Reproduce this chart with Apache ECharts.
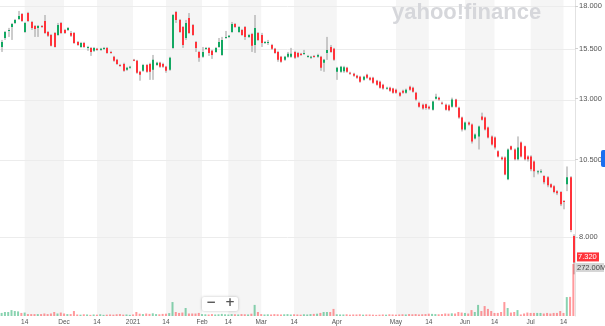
<!DOCTYPE html>
<html>
<head>
<meta charset="utf-8">
<script src="https://cdn.jsdelivr.net/npm/echarts@6/dist/echarts.min.js"></script>
<style>html,body{margin:0;padding:0;background:#fff;}#c{width:605px;height:326px;}</style>
</head>
<body>
<div id="c"></div>
<script>
// ---- data (daily candles) ----
const open = [15.59,16.09,16.49,16.72,16.96,17.20,17.50,16.43,17.56,17.02,
16.78,16.67,16.78,17.08,16.43,16.26,16.38,16.26,16.96,16.55,
16.55,16.38,16.38,15.87,15.59,15.81,15.54,15.54,15.38,15.49,
15.43,15.49,15.54,15.32,15.06,14.90,14.64,14.69,14.39,14.49,
14.90,14.85,14.29,14.34,14.64,14.69,14.39,14.64,14.75,14.69,
14.54,14.39,15.54,17.63,17.14,16.72,16.09,17.26,16.84,15.87,
15.32,15.06,15.49,15.54,15.38,15.32,15.59,15.16,16.09,16.15,
16.43,16.90,16.43,16.55,16.72,16.15,16.32,15.70,16.38,16.26,
15.81,15.81,15.70,15.49,15.32,15.06,14.90,15.06,15.06,15.32,
15.27,15.22,15.22,15.06,15.01,15.11,15.06,15.06,14.75,15.27,
15.59,15.49,14.29,14.29,14.32,14.49,14.24,14.19,14.09,14.04,
13.89,14.14,13.99,13.99,13.85,13.80,13.65,13.47,13.51,13.47,
13.42,13.28,13.37,13.28,13.56,13.51,13.28,12.82,12.73,12.75,
12.64,12.51,13.00,13.05,12.82,12.73,12.70,12.64,12.96,12.60,
12.17,11.67,11.96,11.88,11.31,11.39,12.21,12.17,11.75,11.39,
11.35,10.81,10.58,10.58,9.80,11.00,10.88,10.51,11.15,11.00,
10.62,10.62,10.43,10.05,10.05,9.91,9.87,9.63,9.56,9.40,
9.37,9.08,9.63,9.87,8.03];
const close = [15.87,16.43,16.55,16.90,17.14,17.38,17.08,16.96,17.08,16.67,
16.61,16.78,16.72,16.38,16.21,15.65,15.59,16.84,16.38,16.38,
16.67,16.21,15.81,15.70,15.81,15.59,15.59,15.32,15.54,15.43,
15.49,15.54,15.27,15.27,14.85,14.69,14.59,14.34,14.49,14.54,
14.85,14.24,14.14,14.64,14.29,14.29,14.90,14.75,14.54,14.54,
14.34,15.01,17.44,17.14,16.43,15.70,16.96,16.38,16.26,15.54,
15.01,15.32,15.54,15.27,15.16,15.54,15.87,15.98,16.15,16.21,
16.90,16.72,16.72,16.26,16.15,16.26,15.65,16.67,15.98,15.81,
15.87,15.87,15.49,15.27,14.90,14.80,15.06,15.22,15.22,15.01,
15.06,15.16,15.27,15.11,15.06,15.06,15.16,14.49,14.90,15.43,
15.32,14.90,14.49,14.54,14.52,14.29,14.19,14.09,13.99,13.80,
14.04,13.99,13.89,13.75,13.65,13.51,13.47,13.51,13.37,13.28,
13.28,13.14,13.28,13.42,13.42,13.32,12.96,12.64,12.56,12.58,
12.56,12.87,13.09,12.96,12.78,12.51,12.49,12.96,12.64,12.17,
11.67,11.96,11.88,11.19,11.47,11.79,12.08,11.67,11.35,11.07,
10.96,10.62,10.51,9.97,10.88,10.88,10.51,10.96,10.62,10.51,
10.51,10.15,10.08,10.08,10.08,9.70,9.60,9.53,9.37,9.33,
8.98,9.05,9.87,8.20,7.32];
const low = [15.32,15.98,16.15,15.98,16.90,17.14,17.02,16.38,17.02,16.55,
16.15,16.15,16.67,16.32,16.15,15.62,15.56,16.21,16.32,16.32,
16.49,16.15,15.76,15.65,15.54,15.54,15.38,15.11,15.32,15.38,
15.38,15.43,15.22,15.22,14.80,14.64,14.54,14.29,14.34,14.44,
14.83,14.19,13.85,14.29,14.24,13.89,13.89,14.59,14.49,14.49,
14.24,14.34,15.49,16.96,16.38,15.54,15.98,16.32,16.21,15.32,
14.80,15.01,15.43,15.11,14.95,15.27,15.54,15.11,16.04,16.09,
16.38,16.67,16.38,16.21,15.98,16.09,15.32,15.27,15.92,15.59,
15.76,15.70,15.43,15.22,14.80,14.75,14.85,15.01,15.01,14.95,
15.01,15.11,15.16,15.01,14.95,15.01,15.01,14.34,14.29,14.90,
15.27,14.85,13.89,14.24,14.24,14.24,14.14,14.04,13.94,13.75,
13.85,13.94,13.85,13.70,13.61,13.47,13.42,13.42,13.32,13.23,
13.23,13.09,13.23,13.23,13.37,13.28,12.91,12.60,12.51,12.51,
12.51,12.47,12.96,12.91,12.73,12.47,12.44,12.60,12.60,12.12,
11.59,11.63,11.83,11.11,11.27,10.88,12.04,11.63,11.31,11.03,
10.88,10.58,10.47,9.94,9.77,10.85,10.47,10.47,10.58,10.47,
10.43,10.08,9.87,9.97,10.01,9.63,9.53,9.50,9.33,9.27,
8.92,8.82,9.40,8.14,7.02];
const high = [15.98,16.49,16.67,16.96,17.20,17.69,17.56,17.02,17.63,17.08,
16.84,16.84,16.84,17.44,16.49,16.32,16.43,16.96,17.02,16.61,
16.72,16.49,16.43,15.92,15.87,15.87,15.65,15.59,15.59,15.54,
15.54,15.59,15.59,15.38,15.11,14.95,14.69,14.75,14.54,14.59,
14.95,14.90,14.34,14.69,14.69,14.75,15.16,14.80,14.80,14.75,
14.59,15.06,17.50,17.69,17.20,16.78,17.14,17.56,16.90,15.92,
15.38,15.59,15.59,15.59,15.43,15.59,16.09,16.15,16.49,16.26,
17.02,16.96,16.78,16.61,16.78,16.32,16.38,17.44,16.43,16.38,
15.92,15.98,15.76,15.54,15.38,15.11,15.11,15.32,15.54,15.38,
15.32,15.27,15.43,15.16,15.11,15.16,15.22,15.11,14.95,16.15,
15.70,15.54,14.54,14.59,14.59,14.54,14.29,14.24,14.14,14.09,
14.09,14.19,14.04,14.04,13.89,13.85,13.70,13.56,13.56,13.51,
13.47,13.32,13.42,13.47,13.61,13.56,13.32,12.87,12.78,12.78,
12.69,12.91,13.23,13.09,12.87,12.78,12.75,13.05,13.00,12.64,
12.21,12.00,12.00,11.92,11.51,11.83,12.38,12.21,11.79,11.43,
11.39,10.85,10.62,10.62,10.92,11.03,10.92,11.39,11.19,11.03,
10.66,10.66,10.47,10.12,10.15,9.94,9.91,9.66,9.60,9.43,
9.40,9.11,10.25,9.91,8.08];
// volume, millions of shares
const volume = [16,21,21,31,26,24,16,18,10,10,10,
10,10,13,10,13,21,13,18,13,10,10,
26,
8,7,9,8,6,8,7,9,6,7,8,7,9,10,7,8,6,8,
21,
12,10,13,11,14,10,9,11,12,15,
73,21,16,18,42,13,13,13,16,
10,9,8,10,8,9,11,9,8,10,9,8,10,9,8,12,
58,21,
10,8,9,8,10,9,8,9,10,8,9,8,7,9,8,10,11,12,
16,21,21,21,37,
9,8,8,9,7,8,8,9,7,8,8,7,6,7,8,7,9,8,7,8,9,8,10,9,10,8,9,10,12,11,10,9,10,
13,12,14,13,
21,18,16,13,31,21,58,26,52,37,26,16,16,21,73,42,18,21,31,8,13,18,16,16,16,16,13,16,13,16,16,26,16,99,100,272];
// x tick labels: candle index -> text
const xLabelIndex = [7,19,29,40,50,61,69,79,89,102,120,130,141,150,161,171];
const xLabelText  = ['14','Dec','14','2021','14','Feb','14','Mar','14','Apr','May','14','Jun','14','Jul','14'];
// price tick labels
const priceTicks = [8, 10.5, 13, 15.5, 18];
const volumeMax = 272;

// ---- build ----
const UP = '#13a862', DOWN = '#ff333a';
const N = open.length;
const categories = open.map((_, i) => 'd' + i);
const labelMap = new Map(xLabelIndex.map((k, j) => [k, xLabelText[j]]));
const lnTicks = priceTicks.map(v => Math.log(v));
const yMax = Math.log(18) + 6 / 285;
const yMin = Math.log(18) - 310 / 285;

const candleData = open.map((o, i) => [i, Math.log(o), Math.log(close[i]), Math.log(low[i]), Math.log(high[i])]);
const bands = [];
for (let k = 0; k + 1 < xLabelIndex.length; k += 2) {
  bands.push([{ xAxis: xLabelIndex[k] }, { xAxis: xLabelIndex[k + 1] }]);
}

const chart = echarts.init(document.getElementById('c'), null, { renderer: 'canvas' });
const option = {
  animation: false,
  textStyle: { fontFamily: 'Liberation Sans, Arial, sans-serif' },
  grid: [
    { left: -1, right: 30, top: 0, bottom: 10 },
    { left: -1, right: 30, top: 264, bottom: 10 }
  ],
  xAxis: [
    { type: 'category', data: categories, gridIndex: 0, show: false },
    { type: 'category', data: categories, gridIndex: 1,
      axisLine: { show: false }, axisTick: { show: false }, splitLine: { show: false },
      axisLabel: { interval: (i) => labelMap.has(i), formatter: (v, i) => labelMap.get(i) || '',
                   fontSize: 6.5, color: '#555', margin: 3, fontFamily: 'Liberation Sans' } }
  ],
  yAxis: [
    { type: 'value', gridIndex: 0, position: 'right', min: yMin, max: yMax,
      axisLine: { show: true, lineStyle: { color: '#e2e2e2' } },
      axisTick: { show: true, customValues: lnTicks, length: 3, lineStyle: { color: '#d0d0d0' } },
      axisLabel: { customValues: lnTicks, formatter: (v) => Math.exp(v).toFixed(3),
                   fontSize: 7.5, color: '#555', margin: 4, fontFamily: 'Liberation Sans' },
      splitLine: { show: false } },
    { type: 'value', gridIndex: 1, min: 0, max: volumeMax, show: false }
  ],
  series: [
    { name: 'bands', type: 'line', xAxisIndex: 0, yAxisIndex: 0, data: [], z: 0, silent: true,
      markArea: { silent: true, z: 0, itemStyle: { color: '#f5f5f5' }, data: bands },
      markLine: { silent: true, z: 1, symbol: 'none', label: { show: false },
                  lineStyle: { color: '#ececec', type: 'solid', width: 1 },
                  data: lnTicks.map(v => ({ yAxis: v })) } },
    { name: 'price', type: 'custom', xAxisIndex: 0, yAxisIndex: 0, z: 4,
      encode: { x: 0, y: [1, 2, 3, 4] },
      data: candleData,
      renderItem: function (params, api) {
        const i = api.value(0);
        const o = api.value(1), c = api.value(2), l = api.value(3), h = api.value(4);
        const pO = api.coord([i, o]), pC = api.coord([i, c]);
        const pL = api.coord([i, l]), pH = api.coord([i, h]);
        const xr = Math.floor(pO[0]);
        const top = Math.min(pO[1], pC[1]);
        const hgt = Math.max(1, Math.abs(pO[1] - pC[1]));
        const col = c >= o ? UP : DOWN;
        return { type: 'group', children: [
          { type: 'line', shape: { x1: xr + 1, y1: pH[1], x2: xr + 1, y2: pL[1] },
            style: { stroke: '#9a9a9a', lineWidth: 1 } },
          { type: 'rect', shape: { x: xr, y: top, width: 2, height: hgt }, style: { fill: col } }
        ] };
      } },
    { name: 'volume', type: 'bar', xAxisIndex: 1, yAxisIndex: 1, z: 4, barWidth: 2,
      data: volume.map((v, i) => ({ value: v,
        itemStyle: { color: close[i] >= open[i] ? 'rgba(19,168,98,0.5)' : 'rgba(255,51,58,0.5)' } })) }
  ],
  graphic: [
    { id: 'wm', type: 'text', left: 392, top: 2, z: 3, silent: true,
      style: { text: 'yahoo!finance', fill: '#d6d7db', font: 'bold 22px "Liberation Sans", Arial' } },
    { id: 'zoombox', type: 'rect', left: 202, top: 297, z: 50, silent: true,
      shape: { width: 36, height: 14, r: 2 },
      style: { fill: '#ffffff', shadowBlur: 3, shadowColor: 'rgba(0,0,0,0.25)' } },
    { id: 'zminus', type: 'text', left: 206, top: 297, z: 51, silent: true,
      style: { text: '\u2212', fill: '#555', font: 'bold 12px "DejaVu Sans"' } },
    { id: 'zplus', type: 'text', left: 225, top: 297, z: 51, silent: true,
      style: { text: '+', fill: '#555', font: 'bold 12px "DejaVu Sans"' } },
    { id: 'blue', type: 'rect', left: 601, top: 150, z: 50, silent: true,
      shape: { width: 10, height: 17, r: 2 }, style: { fill: '#1a6ff0' } }
  ]
};
chart.setOption(option);

// last price / last volume tags placed through the chart's own scales
const yClose = chart.convertToPixel({ yAxisIndex: 0 }, Math.log(close[N - 1]));
const yVol = chart.convertToPixel({ yAxisIndex: 1 }, volume[N - 1]);
chart.setOption({ graphic: [
  { id: 'pxTag', type: 'rect', left: 577, top: yClose - 10, z: 60, silent: true,
    shape: { width: 22, height: 9 }, style: { fill: DOWN } },
  { id: 'pxTxt', type: 'text', left: 578, top: yClose - 9.5, z: 61, silent: true,
    style: { text: close[N - 1].toFixed(3), fill: '#fff', font: '7.5px "Liberation Sans"' } },
  { id: 'vTag', type: 'rect', left: 576, top: yVol - 1, z: 62, silent: true,
    shape: { width: 28, height: 9 }, style: { fill: '#d6d6d6' } },
  { id: 'vTxt', type: 'text', left: 577, top: yVol - 0.5, z: 63, silent: true,
    style: { text: volume[N - 1].toFixed(2) + 'M', fill: '#444', font: '7.5px "Liberation Sans"' } }
] });
</script>
</body>
</html>
